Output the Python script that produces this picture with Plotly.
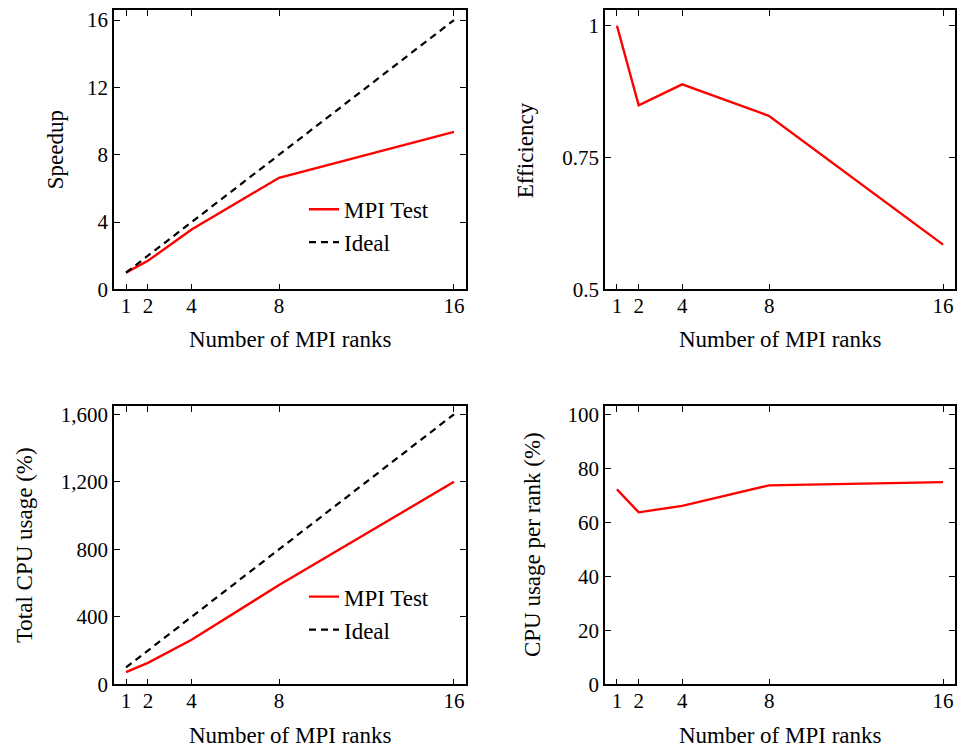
import plotly.graph_objects as go

# ---- data ----
ranks = [1, 2, 4, 8, 16]
speedup = [1.0, 1.70, 3.56, 6.63, 9.36]
ideal_speedup = [1, 2, 4, 8, 16]
efficiency = [1.0, 0.849, 0.889, 0.829, 0.585]
total_cpu = [72, 127, 264, 588, 1200]
ideal_cpu = [100, 200, 400, 800, 1600]
cpu_per_rank = [72.3, 63.8, 66.2, 73.8, 75.0]

x_ticks = [1, 2, 4, 8, 16]
speed_ticks = [0, 4, 8, 12, 16]
eff_ticks = [0.5, 0.75, 1.0]
eff_labels = ["0.5", "0.75", "1"]
cpu_ticks = [0, 400, 800, 1200, 1600]
cpu_labels = ["0", "400", "800", "1,200", "1,600"]
rank_ticks = [0, 20, 40, 60, 80, 100]

W, H = 959, 759
REF_W, REF_H = 959, 748
FONT = "Liberation Serif"
TICK_SIZE = 21
TITLE_SIZE = 23
RED = "#ff0000"

def px(x):
    return min(1.0, max(0.0, x / REF_W))

def py(y):
    return min(1.0, max(0.0, 1 - y / REF_H))

fig = go.Figure()

# top-left
fig.add_trace(go.Scatter(x=ranks, y=speedup, mode="lines", name="MPI Test",
                         line=dict(color=RED, width=2.4), xaxis="x", yaxis="y",
                         legend="legend"))
fig.add_trace(go.Scatter(x=ranks, y=ideal_speedup, mode="lines", name="Ideal",
                         line=dict(color="black", width=2.2, dash="7px,5px"),
                         xaxis="x", yaxis="y", legend="legend"))
# top-right
fig.add_trace(go.Scatter(x=ranks, y=efficiency, mode="lines", showlegend=False,
                         line=dict(color=RED, width=2.4), xaxis="x2", yaxis="y2"))
# bottom-left
fig.add_trace(go.Scatter(x=ranks, y=total_cpu, mode="lines", name="MPI Test",
                         line=dict(color=RED, width=2.4), xaxis="x3", yaxis="y3",
                         legend="legend2"))
fig.add_trace(go.Scatter(x=ranks, y=ideal_cpu, mode="lines", name="Ideal",
                         line=dict(color="black", width=2.2, dash="7px,5px"),
                         xaxis="x3", yaxis="y3", legend="legend2"))
# bottom-right
fig.add_trace(go.Scatter(x=ranks, y=cpu_per_rank, mode="lines", showlegend=False,
                         line=dict(color=RED, width=2.4), xaxis="x4", yaxis="y4"))

xl = [px(114), px(466)]
xr = [px(605), px(955)]
yt = [py(288), py(7)]
yb = [py(685), py(405)]

common = dict(showline=True, linecolor="black", linewidth=1.6, mirror="ticks",
              ticks="inside", ticklen=6, tickwidth=1.3, tickcolor="black",
              showgrid=False, zeroline=False,
              tickfont=dict(family=FONT, size=TICK_SIZE, color="black"))

def xax(domain, anchor):
    return dict(domain=domain, anchor=anchor, range=[0.45, 16.55],
                tickvals=x_ticks, ticktext=[str(v) for v in x_ticks],
                ticklabelstandoff=-3, **common)

def yax(domain, anchor, rng, vals, labels):
    return dict(domain=domain, anchor=anchor, range=rng, tickvals=vals,
                ticktext=labels, **common)

legfont = dict(family=FONT, size=TITLE_SIZE, color="black")
fig.update_layout(
    width=W, height=H,
    margin=dict(l=0, r=0, t=0, b=0),
    paper_bgcolor="white", plot_bgcolor="white",
    xaxis=xax(xl, "y"),
    yaxis=yax(yt, "x", [0, 16.6], speed_ticks, [str(v) for v in speed_ticks]),
    xaxis2=xax(xr, "y2"),
    yaxis2=yax(yt, "x2", [0.5, 1.03], eff_ticks, eff_labels),
    xaxis3=xax(xl, "y3"),
    yaxis3=yax(yb, "x3", [0, 1650], cpu_ticks, cpu_labels),
    xaxis4=xax(xr, "y4"),
    yaxis4=yax(yb, "x4", [0, 103.3], rank_ticks, [str(v) for v in rank_ticks]),
    legend=dict(x=px(304), y=py(224), xanchor="left", yanchor="middle",
                bgcolor="rgba(0,0,0,0)", borderwidth=0, font=legfont,
                tracegroupgap=0),
    legend2=dict(x=px(304), y=py(613.5), xanchor="left", yanchor="middle",
                 bgcolor="rgba(0,0,0,0)", borderwidth=0, font=legfont,
                 tracegroupgap=0),
)

tfont = dict(family=FONT, size=TITLE_SIZE, color="black")
annots = [
    ("Number of MPI ranks", 290, 338, 0),
    ("Number of MPI ranks", 780, 338, 0),
    ("Number of MPI ranks", 290, 736, 0),
    ("Number of MPI ranks", 780, 736, 0),
    ("Speedup", 55, 148, -90),
    ("Efficiency", 525, 148, -90),
    ("Total CPU usage (%)", 24, 545, -90),
    ("CPU usage per rank (%)", 532, 545, -90),
]
for text, x, y, ang in annots:
    fig.add_annotation(text=text, x=px(x), y=py(y), xref="paper", yref="paper",
                       showarrow=False, textangle=ang, font=tfont,
                       xanchor="center", yanchor="middle")

fig.write_html("out.html", config={"displayModeBar": False},
               post_script="document.body.style.margin='0';"
                           "document.body.style.overflow='hidden';")
